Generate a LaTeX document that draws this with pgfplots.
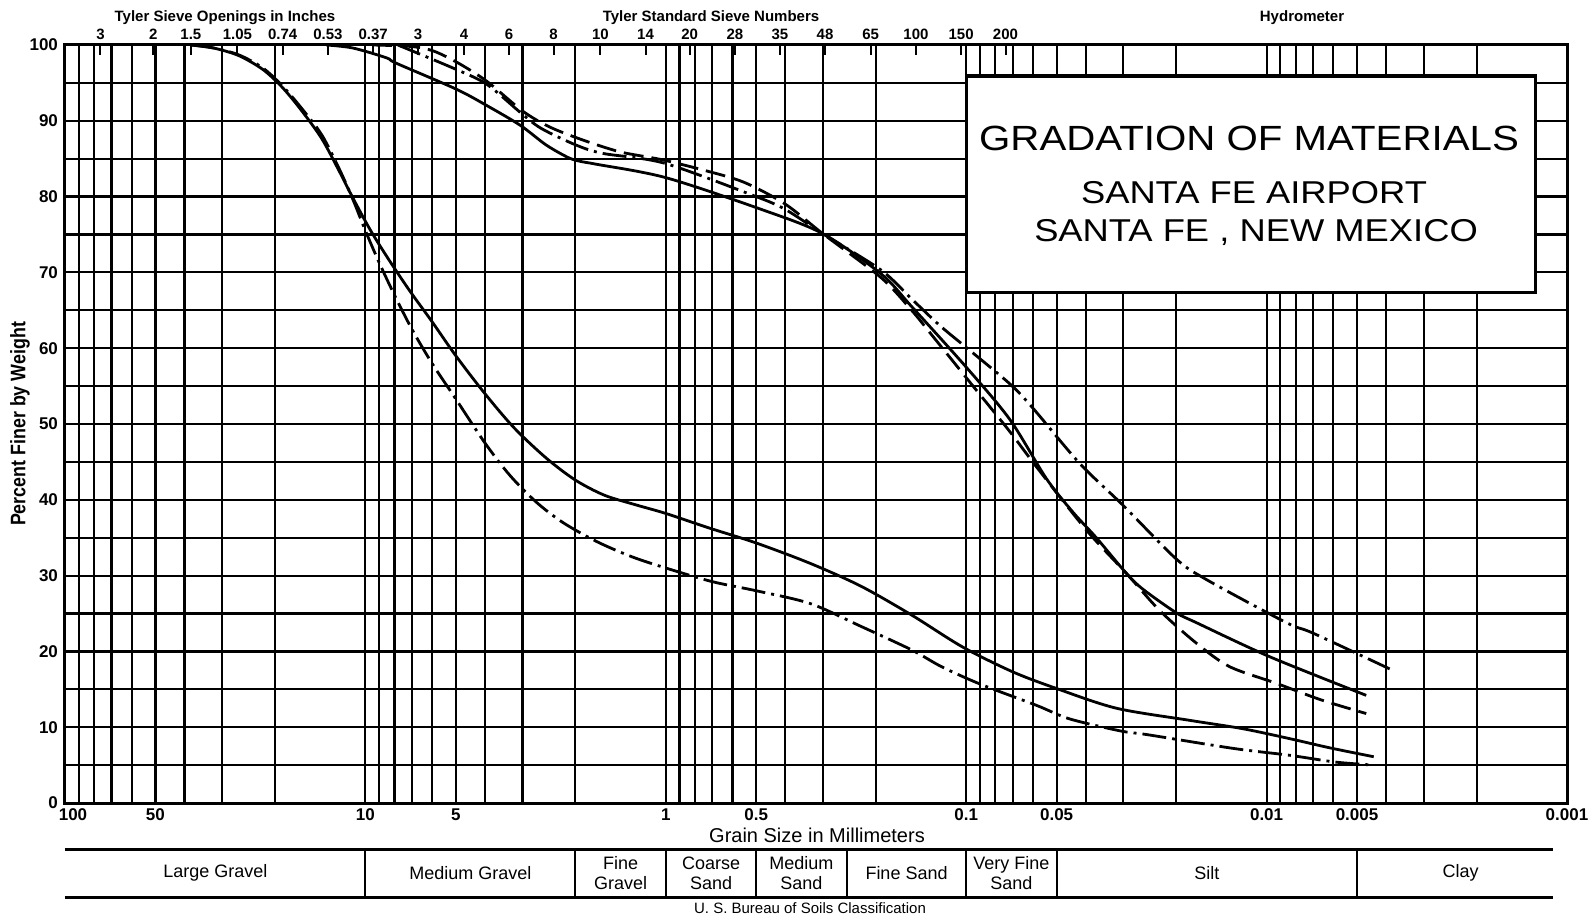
\documentclass[border=0pt]{standalone}
\usepackage{fontspec}
\setmainfont{Liberation Sans}
\newfontfamily\cond[FakeStretch=0.85]{Liberation Sans}
\newfontfamily\wide[FakeStretch=1.15]{Liberation Sans}
\usepackage{pgfplots}
\pgfplotsset{compat=1.18}

\begin{document}
\begin{tikzpicture}
\path[use as bounding box] (-32.5pt,-56pt) rectangle (761.5pt,401.5pt);
\begin{axis}[
  at={(0pt,0pt)}, anchor=south west,
  scale only axis, width=751pt, height=379pt,
  xmode=log, x dir=reverse, xmin=0.001, xmax=100,
  ymin=0, ymax=100,
  xtick={100,50,10,5,1,0.5,0.1,0.05,0.01,0.005,0.001},
  xticklabels={\hspace*{8pt}100,50,10,5,1,0.5,0.1,0.05,0.01,0.005,0.001},
  minor xtick={90,80,70,60,50,40,30,20,9,8,7,6,5,4,3,2,0.9,0.8,0.7,0.6,0.5,0.4,0.3,0.2,0.09,0.08,0.07,0.06,0.05,0.04,0.03,0.02,0.009,0.008,0.007,0.006,0.005,0.004,0.003,0.002},
  ytick={0,10,...,100},
  minor ytick={5,15,...,95},
  grid=both,
  major grid style={black, line width=1.1pt},
  minor grid style={black, line width=1.1pt},
  major tick length=0pt, minor tick length=0pt,
  axis line style={line width=1.5pt},
  tick label style={font=\bfseries\fontsize{8.5}{8.5}\selectfont},
  /pgf/number format/assume math mode=true,
  xticklabel style={yshift=0.5pt},
  clip=false,
]
% left group
\addplot[black, line width=1.4pt, smooth] coordinates {
(38.1,100) (32,99.6) (26.4,98.6) (22,96.8) (19,94.5) (16.5,91.6) (14,87.7) (12.2,83.3) (11,79.8) (9.6,75.5) (8.3,71.5) (7.1,67.5) (6,63.5) (5,59) (4,54) (3.2,49.5) (2.5,45.5) (2,42.6) (1.6,40.6) (1.25,39.3) (1,38.2) (0.72,36.3) (0.5,34.3) (0.33,31.6) (0.224,28.6) (0.152,24.8) (0.103,20.6) (0.07,17.3) (0.05,15.1) (0.0316,12.5) (0.018,10.9) (0.012,9.8) (0.0084,8.5) (0.0062,7.3) (0.0044,6.1)};
\addplot[black, line width=1.4pt, smooth, dash pattern=on 12pt off 3pt on 1.5pt off 3pt] coordinates {
(38.1,100) (32,99.6) (26.4,98.7) (22,97) (19,94.7) (16.5,91.9) (14,88.2) (12.2,83.6) (11,79.6) (10,75.5) (9,71.3) (8,67) (7,62.5) (6,58) (5,53.3) (4,47.5) (3.3,43.2) (2.7,39.7) (2.2,37) (1.7,34.5) (1.3,32.5) (1,31) (0.7,29.2) (0.5,28) (0.33,26.3) (0.224,23.3) (0.152,20.2) (0.121,18.0) (0.09,15.7) (0.0585,12.9) (0.0453,11.1) (0.0306,9.5) (0.0248,9) (0.0129,7.2) (0.0084,6.3) (0.0059,5.4) (0.0044,5.0)};
% right group
\addplot[black, line width=1.4pt, smooth, dash pattern=on 10pt off 4pt] coordinates {
(9.5,100) (7.04,99.8) (5.93,99.2) (4.9,97.6) (3.94,95.2) (3.0,91.3) (2.44,89.2) (1.9,87.5) (1.42,85.9) (1.04,84.9) (0.75,83.5) (0.55,81.9) (0.40,79) (0.30,75.1) (0.192,69.3) (0.152,65) (0.1324,62.1) (0.0949,55.0) (0.0716,49.0) (0.0585,44.4) (0.0398,36.0) (0.0293,30.3) (0.0227,25.4) (0.01715,21.1) (0.0133,18.0) (0.0093,15.8) (0.00658,13.6) (0.00466,11.8)};
\addplot[black, line width=1.4pt, smooth, dash pattern=on 12pt off 3pt on 1.5pt off 3pt] coordinates {
(7.8,100) (5.0,96.8) (3.94,94.8) (3.05,91.1) (2.6,89.0) (1.99,86.8) (1.62,85.7) (1.01,84.4) (0.508,80.1) (0.40,78.3) (0.30,75.1) (0.192,70.3) (0.152,66.5) (0.1225,63) (0.1,60.1) (0.0716,55.3) (0.06,52.1) (0.0419,44.8) (0.0301,39.3) (0.02,32.2) (0.0159,29.5) (0.0086,23.8) (0.007,22.4) (0.00385,17.6)};
\addplot[black, line width=1.4pt, smooth] coordinates {
(13.5,100) (11,99.6) (8.5,98.3) (7.9,97.6) (5.0,94.2) (3.94,92.0) (3.05,89.4) (2.5,86.8) (2.1,85.1) (1.9,84.6) (1.72,84.3) (1.0,82.5) (0.48,78.3) (0.30,75.1) (0.192,69.8) (0.152,65.5) (0.1,57.5) (0.0716,50.6) (0.0541,42.8) (0.0442,38.4) (0.0369,35.0) (0.0293,30.3) (0.0258,28.2) (0.02,25.1) (0.01715,23.8) (0.00977,19.3) (0.00466,14.2)};

% title box
\draw[line width=1.6pt, fill=white] (axis cs:0.1,67.4) rectangle (axis cs:0.00127,95.9);
\path (rel axis cs:0,0) ++(592pt,332.5pt) node {\wide\fontsize{17.5}{17.5}\selectfont GRADATION OF MATERIALS};
\path (rel axis cs:0,0) ++(594.5pt,305pt) node {\wide\fontsize{15.8}{15.8}\selectfont SANTA FE AIRPORT};
\path (rel axis cs:0,0) ++(595.5pt,285.5pt) node {\wide\fontsize{15.8}{15.8}\selectfont SANTA FE , NEW MEXICO};

% axis labels
\path (rel axis cs:0,0.5) ++(-22.5pt,0pt) node[rotate=90] {\cond\bfseries\fontsize{10.5}{10.5}\selectfont Percent Finer by Weight};
\path (rel axis cs:0,0) ++(376pt,-16pt) node {\fontsize{10}{10}\selectfont Grain Size in Millimeters};
\path (rel axis cs:0,1) ++(80pt,13.5pt) node {\bfseries\fontsize{7.5}{7.5}\selectfont Tyler Sieve Openings in Inches};
\path (rel axis cs:0,1) ++(323pt,13.5pt) node {\bfseries\fontsize{7.5}{7.5}\selectfont Tyler Standard Sieve Numbers};
\path (rel axis cs:0,1) ++(618.5pt,13.5pt) node {\bfseries\fontsize{7.5}{7.5}\selectfont Hydrometer};

% classification table
\draw[line width=1.5pt] (rel axis cs:0,0) ++(0pt,-23pt) -- ++(744pt,0pt);
\draw[line width=1.5pt] (rel axis cs:0,0) ++(0pt,-47pt) -- ++(744pt,0pt);
\pgfplotsinvokeforeach{10,2,1,0.5,0.25,0.1,0.05,0.005}{
  \draw[line width=1pt] (axis cs:#1,0) ++(0pt,-23pt) -- ++(0pt,-24pt);
}
\tikzset{tbl/.style={font=\fontsize{9}{10}\selectfont, align=center}}
\path (axis cs:31.6,0) ++(0pt,-35pt) node[tbl] {Large Gravel};
\path (axis cs:4.47,0) ++(0pt,-35pt) node[tbl] {Medium Gravel};
\path (axis cs:1.414,0) ++(0pt,-35pt) node[tbl] {Fine\\Gravel};
\path (axis cs:0.707,0) ++(0pt,-35pt) node[tbl] {Coarse\\Sand};
\path (axis cs:0.354,0) ++(0pt,-35pt) node[tbl] {Medium\\Sand};
\path (axis cs:0.158,0) ++(0pt,-35pt) node[tbl] {Fine Sand};
\path (axis cs:0.0707,0) ++(0pt,-35pt) node[tbl] {Very Fine\\Sand};
\path (axis cs:0.0158,0) ++(0pt,-35pt) node[tbl] {Silt};
\path (axis cs:0.00226,0) ++(0pt,-35pt) node[tbl] {Clay};
\path (rel axis cs:0,0) ++(372.5pt,-52.5pt) node {\fontsize{7.5}{7.5}\selectfont U. S.\ Bureau of Soils Classification};
\end{axis}

% top sieve scale
\begin{axis}[
  at={(0pt,0pt)}, anchor=south west,
  scale only axis, width=751pt, height=379pt,
  xmode=log, x dir=reverse, xmin=0.001, xmax=100,
  ymin=0, ymax=100,
  axis x line*=top, axis y line=none,
  xtick={76.2,50.8,38.1,26.67,18.85,13.33,9.42,6.68,4.699,3.327,2.362,1.651,1.168,0.833,0.589,0.417,0.295,0.208,0.147,0.104,0.074},
  xticklabels={3,2,1.5,1.05,0.74,0.53,0.37,3,4,6,8,10,14,20,28,35,48,65,100,150,200},
  minor xtick={},
  tick align=inside, major tick length=5pt,
  tick style={black, line width=1pt},
  axis line style={line width=1.5pt},
  xticklabel style={font=\bfseries\fontsize{7.5}{7.5}\selectfont, yshift=-1pt},
  /pgf/number format/assume math mode=true,
]
\addplot[draw=none] coordinates {(1,50)};
\end{axis}
\end{tikzpicture}
\end{document}
